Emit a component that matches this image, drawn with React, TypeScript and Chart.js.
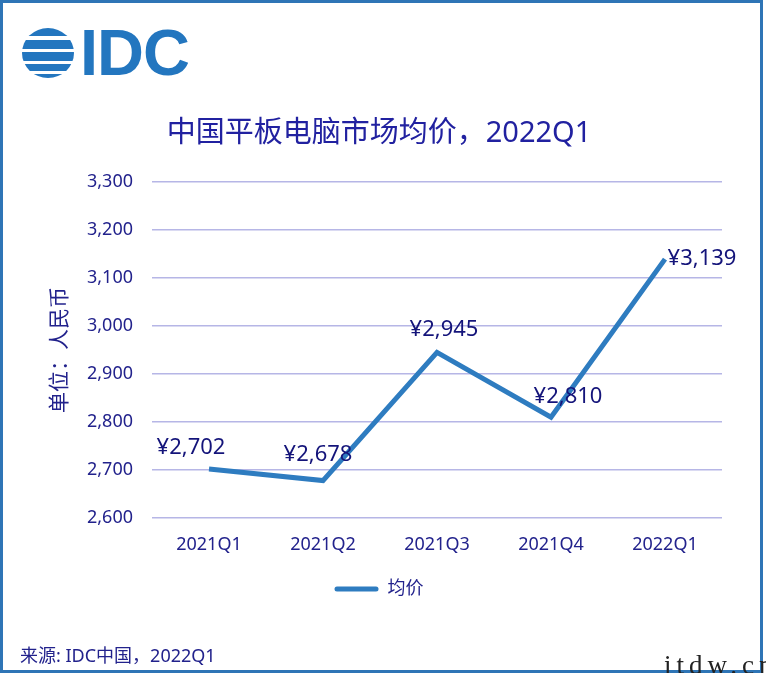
import React, { useEffect, useRef } from "react";
import { Chart, registerables } from "chart.js";

Chart.register(...registerables);

// ---- data ----
const categories = ["2021Q1", "2021Q2", "2021Q3", "2021Q4", "2022Q1"];
const avgPrice = [2702, 2678, 2945, 2810, 3139];
const seriesName = "均价";
const yTicks = [2600, 2700, 2800, 2900, 3000, 3100, 3200, 3300];
const chartTitle = "中国平板电脑市场均价，2022Q1";
const yAxisTitle = "单位：人民币";
const sourceNote = "来源: IDC中国，2022Q1";
const watermark = "itdw.cn";

// ---- style ----
const labelOffsets = [
  [-18, -21],
  [-5, -26],
  [7, -23],
  [17, -20],
  [37, 0],
];
const FONT = '"Noto Sans", "Noto Sans CJK SC", sans-serif';
const NAVY = "#22228c";
const LABEL_NAVY = "#14147a";
const LINE_BLUE = "#2e7cc0";
const GRID = "#b6b6e6";

const dataLabelPlugin = {
  id: "dataLabels",
  afterDatasetsDraw(chart: any) {
    const { ctx } = chart;
    const meta = chart.getDatasetMeta(0);
    ctx.save();
    ctx.font = `22px ${FONT}`;
    ctx.fillStyle = LABEL_NAVY;
    ctx.textAlign = "center";
    ctx.textBaseline = "middle";
    meta.data.forEach((pt: any, i: number) => {
      const v = avgPrice[i];
      const [dx, dy] = labelOffsets[i];
      ctx.fillText("¥" + v.toLocaleString("en-US"), pt.x + dx, pt.y + dy);
    });
    ctx.restore();
  },
};

function Logo() {
  const blue = "#2376bf";
  return (
    <div style={{ position: "absolute", left: 22, top: 28, height: 50, display: "flex", alignItems: "center" }}>
      <div
        style={{
          width: 52,
          height: 50,
          borderRadius: "50%",
          background: `linear-gradient(to bottom, ${blue} 0px, ${blue} 8px, #fff 8px, #fff 12px, ${blue} 12px, ${blue} 21px, #fff 21px, #fff 24px, ${blue} 24px, ${blue} 33px, #fff 33px, #fff 36px, ${blue} 36px, ${blue} 43px, #fff 43px, #fff 46px, ${blue} 46px, ${blue} 50px)`,
        }}
      />
      <div
        style={{
          marginLeft: 6,
          fontFamily: '"Liberation Sans", Arial, sans-serif',
          fontWeight: 700,
          fontSize: 65,
          lineHeight: "50px",
          color: blue,
          letterSpacing: -1,
        }}
      >
        IDC
      </div>
    </div>
  );
}

export default function App() {
  const canvasRef = useRef<HTMLCanvasElement>(null);

  useEffect(() => {
    document.body.style.margin = "0";
    const canvas = canvasRef.current;
    if (!canvas) return;
    const chart = new Chart(canvas, {
      type: "line",
      data: {
        labels: categories,
        datasets: [
          {
            label: seriesName,
            data: avgPrice,
            borderColor: LINE_BLUE,
            backgroundColor: LINE_BLUE,
            borderWidth: 5,
            pointRadius: 0,
            tension: 0,
            fill: false,
          },
        ],
      },
      options: {
        animation: false,
        responsive: false,
        maintainAspectRatio: false,
        layout: { padding: { left: 36, right: 44, top: 0, bottom: 65 } },
        plugins: {
          title: {
            display: true,
            text: chartTitle,
            color: "#2121a0",
            font: { family: FONT, size: 29, weight: "normal" },
            padding: { top: 116, bottom: 31 },
          },
          legend: {
            display: true,
            position: "bottom",
            labels: {
              color: NAVY,
              font: { family: FONT, size: 18 },
              boxWidth: 44,
              boxHeight: 5,
              useBorderRadius: true,
              borderRadius: 2.5,
              generateLabels: () => [
                {
                  text: seriesName,
                  fillStyle: LINE_BLUE,
                  strokeStyle: LINE_BLUE,
                  lineWidth: 0,
                  fontColor: NAVY,
                  datasetIndex: 0,
                  hidden: false,
                  borderRadius: 2.5,
                } as any,
              ],
            },
          },
          tooltip: { enabled: false },
        },
        scales: {
          x: {
            type: "category",
            offset: true,
            grid: { display: false, drawTicks: false },
            border: { display: false },
            ticks: { color: NAVY, font: { family: FONT, size: 18 }, padding: 16 },
            afterFit: (s: any) => {
              s.height = 52;
            },
          },
          y: {
            min: 2600,
            max: 3300,
            afterBuildTicks: (s: any) => {
              s.ticks = yTicks.map((v) => ({ value: v }));
            },
            grid: { color: GRID, lineWidth: 1.5, drawTicks: false },
            border: { display: false },
            ticks: {
              color: NAVY,
              font: { family: FONT, size: 18 },
              padding: 19,
              callback: (v: any) => Number(v).toLocaleString("en-US"),
            },
            title: {
              display: true,
              text: yAxisTitle,
              color: NAVY,
              font: { family: FONT, size: 21 },
              padding: { top: 11, bottom: 0 },
            },
            afterFit: (s: any) => {
              s.width = 116;
            },
          },
        },
      },
      plugins: [dataLabelPlugin],
    });
    return () => chart.destroy();
  }, []);

  return (
    <div style={{ position: "relative", width: 766, height: 673, background: "#fff", overflow: "hidden" }}>
      <canvas ref={canvasRef} width={766} height={673} style={{ position: "absolute", left: 0, top: 0 }} />
      <Logo />
      <div
        style={{
          position: "absolute",
          left: 20,
          top: 642,
          fontFamily: FONT,
          fontSize: 18,
          lineHeight: "26px",
          color: NAVY,
          whiteSpace: "nowrap",
        }}
      >
        {sourceNote}
      </div>
      <div
        style={{
          position: "absolute",
          left: 0,
          top: 0,
          width: 763,
          height: 673,
          boxSizing: "border-box",
          border: "3px solid #2e75b6",
          pointerEvents: "none",
        }}
      />
      <div
        style={{
          position: "absolute",
          left: 664,
          top: 650,
          fontFamily: '"Liberation Serif", "DejaVu Serif", serif',
          fontSize: 27,
          lineHeight: "30px",
          color: "#222",
          letterSpacing: 5,
          whiteSpace: "nowrap",
        }}
      >
        {watermark}
      </div>
    </div>
  );
}
